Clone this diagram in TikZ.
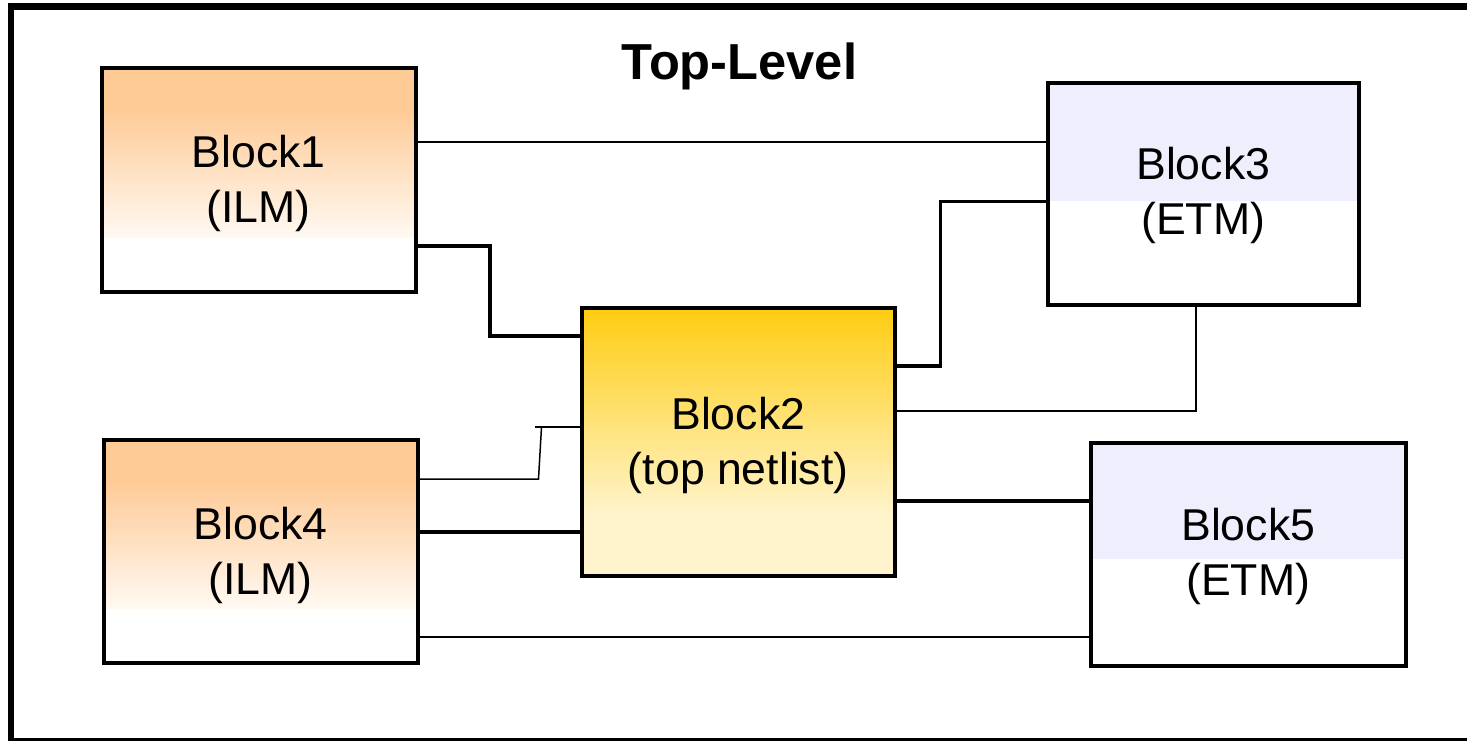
\documentclass[tikz,border=0pt]{standalone}
\usepackage{fontspec}
\setmainfont{Liberation Sans}
\definecolor{orangeA}{RGB}{254,202,150}
\definecolor{orangeB}{RGB}{255,249,242}
\definecolor{goldA}{RGB}{255,204,17}
\definecolor{paleY}{RGB}{255,244,204}
\definecolor{lav}{RGB}{238,238,252}
\begin{document}
\begin{tikzpicture}[x=0.5pt,y=-0.5pt,
  blk/.style={draw=black, line width=2pt, rectangle, inner sep=0pt, outer sep=0pt},
  txt/.style={align=center, inner sep=0pt, font=\fontsize{22.3}{27.5}\selectfont},
  thinw/.style={line width=1pt},
  hairw/.style={line width=0.75pt},
  thickw/.style={line width=1.8pt},
  title/.style={font=\fontsize{25.3}{30}\selectfont\bfseries, inner sep=0pt}]
\useasboundingbox (0,0) rectangle (1467,740);
% outer frame (right and bottom run off the picture)
\begin{scope}
  \clip (0,0) rectangle (1467,740);
  \draw[line width=3.3pt] (11,6.5) rectangle (1480,741);
\end{scope}
% fills
\fill[orangeA] (101.5,67.5) rectangle (415.5,108);
\shade[top color=orangeA, bottom color=orangeB] (101.5,108) rectangle (415.5,237);
\fill[orangeA] (103.5,439.5) rectangle (418,480);
\shade[top color=orangeA, bottom color=orangeB] (103.5,480) rectangle (418,608);
\shade[top color=goldA, bottom color=paleY] (581.5,307.5) rectangle (895,515);
\fill[paleY] (581.5,515) rectangle (895,576);
\fill[lav] (1047.5,82.5) rectangle (1359,201);
\fill[lav] (1090.5,443) rectangle (1406,559);
% title
\node[title, anchor=base] (ttl) at (739.5,79) {Top-Level};
% blocks
\node[blk, minimum width=157pt, minimum height=112pt] (b1) at (258.5,179.5) {};
\node[blk, minimum width=156.75pt, minimum height=134.25pt] (b2) at (738.25,441.75) {};
\node[blk, minimum width=155.75pt, minimum height=111.25pt] (b3) at (1203.25,193.75) {};
\node[blk, minimum width=157.25pt, minimum height=111.75pt] (b4) at (260.75,551.25) {};
\node[blk, minimum width=157.75pt, minimum height=111.5pt] (b5) at (1248.25,554.5) {};
% block texts
\node[txt] (t1) at ([yshift=-2pt]b1.center) {Block1\\(ILM)};
\node[txt] (t2) at ([yshift=-2pt]b2.center) {Block2\\(top netlist)};
\node[txt] (t3) at ([yshift=-1pt]b3.center) {Block3\\(ETM)};
\node[txt] (t4) at ([yshift=-2pt]b4.center) {Block4\\(ILM)};
\node[txt] (t5) at ([yshift=-1pt]b5.center) {Block5\\(ETM)};
% helper levels
\coordinate (L142) at (0,142);
\coordinate (L246) at (0,246);
\coordinate (L336) at (0,336);
\coordinate (L427) at (0,427);
\coordinate (L479) at (0,479);
\coordinate (L532) at (0,532);
\coordinate (L366) at (0,366);
\coordinate (L201) at (0,201.5);
\coordinate (L411) at (0,411);
\coordinate (L501) at (0,501);
\coordinate (L636) at (0,636.5);
\coordinate (k1) at (490,336);
\coordinate (k2a) at (538.5,479);
\coordinate (k2b) at (541.5,427);
\coordinate (k2c) at (535,427);
\coordinate (k3) at (940.5,201.5);
\coordinate (k4) at (1195.5,411);
% connectors
\draw[thinw] (b1.east |- L142) -- (b3.west |- L142);
\draw[thickw] (b1.east |- L246) -| (k1) -- (b2.west |- L336);
\draw[hairw] (b4.east |- L479) -- (k2a) -- (k2b);
\draw[hairw] (k2c) -- (b2.west |- L427);
\draw[thickw] (b4.east |- L532) -- (b2.west |- L532);
\draw[thickw] (b2.east |- L366) -| (k3) -- (b3.west |- L201);
\draw[thinw] (b2.east |- L411) -- (k4) -- (k4 |- b3.south);
\draw[thickw] (b2.east |- L501) -- (b5.west |- L501);
\draw[thinw] (b4.east |- L636) -- (b5.west |- L636);
\end{tikzpicture}
\end{document}
